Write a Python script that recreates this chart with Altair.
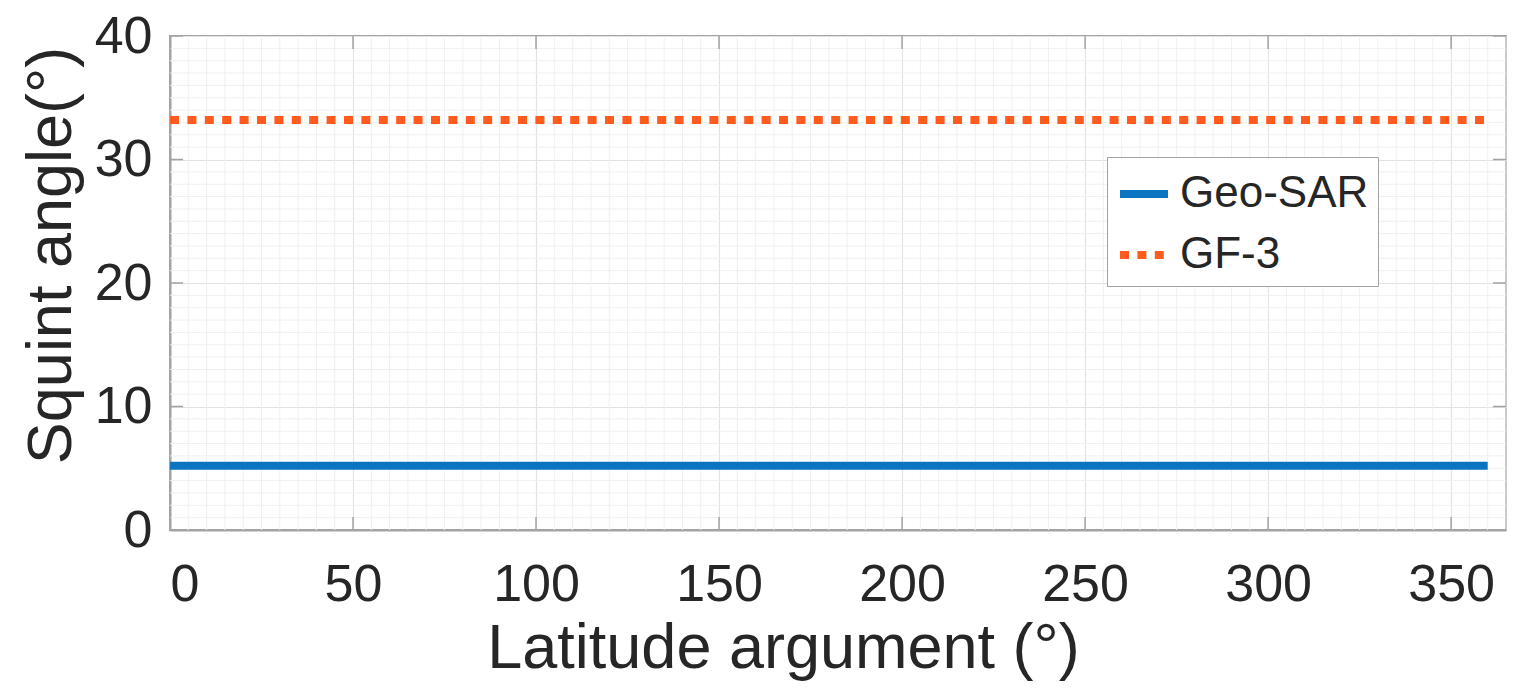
import altair as alt
import pandas as pd

# ---- data ----
lat = [0, 360]
geo_sar = [5.2, 5.2]
gf3 = [33.2, 33.2]
series_names = ["Geo-SAR", "GF-3"]
series_colors = ["#0A74C0", "#FF5B1E"]

x_major = [0, 50, 100, 150, 200, 250, 300, 350]
y_major = [0, 10, 20, 30, 40]
x_minor = [v for v in range(0, 366, 5) if v % 50 != 0]
y_minor = [v for v in range(0, 41) if v % 10 != 0]

W, H = 1336, 494
FONT = "Liberation Sans"
TXT = "#262626"
FRAME = "#a3a3a3"

df = pd.DataFrame({
    "lat": lat + lat,
    "val": geo_sar + gf3,
    "series": [series_names[0]] * len(lat) + [series_names[1]] * len(lat),
})

xs = alt.Scale(domain=[0, 365], nice=False, zero=False)
ys = alt.Scale(domain=[0, 40], nice=False)
xaxis = alt.Axis(values=x_major, title="Latitude argument (°)", format="d",
                 titleX=613, titleY=137, titleBaseline="alphabetic", titleAlign="center")
yaxis = alt.Axis(values=y_major, title="Squint angle(°)", format="d",
                 titleX=-100, titleY=219, titleBaseline="alphabetic",
                 titleAlign="center", titleAngle=270)


def X(f):
    return alt.X(f"{f}:Q", scale=xs, axis=xaxis)


def Y(f):
    return alt.Y(f"{f}:Q", scale=ys, axis=yaxis)


minor_x = alt.Chart(pd.DataFrame({"x": x_minor})).mark_rule(
    color="#f0f0f0", strokeWidth=1).encode(x=X("x"))
minor_y = alt.Chart(pd.DataFrame({"y": y_minor})).mark_rule(
    color="#f0f0f0", strokeWidth=1).encode(y=Y("y"))

lines = alt.Chart(df).mark_line(strokeCap="butt", strokeWidth=8).encode(
    x=X("lat"),
    y=Y("val"),
    color=alt.Color("series:N", sort=series_names,
                    scale=alt.Scale(domain=series_names, range=series_colors),
                    legend=alt.Legend(title=None, orient="none", legendX=937, legendY=121)),
    strokeDash=alt.StrokeDash("series:N", sort=series_names,
                              scale=alt.Scale(domain=series_names, range=[[1, 0], [9, 8.4]]),
                              legend=alt.Legend(title=None, orient="none", legendX=937, legendY=121)),
)

tick_x_bottom = alt.Chart(pd.DataFrame({"x": x_major})).mark_rule(color=FRAME, strokeWidth=1.5).encode(
    x=X("x"), y=alt.value(H), y2=alt.value(H - 13))
tick_x_top = alt.Chart(pd.DataFrame({"x": x_major})).mark_rule(color=FRAME, strokeWidth=1.5).encode(
    x=X("x"), y=alt.value(0), y2=alt.value(13))
tick_y_left = alt.Chart(pd.DataFrame({"y": y_major})).mark_rule(color=FRAME, strokeWidth=1.5).encode(
    y=Y("y"), x=alt.value(0), x2=alt.value(13))
tick_y_right = alt.Chart(pd.DataFrame({"y": y_major})).mark_rule(color=FRAME, strokeWidth=1.5).encode(
    y=Y("y"), x=alt.value(W), x2=alt.value(W - 13))

chart = alt.layer(
    minor_x, minor_y, lines, tick_x_bottom, tick_x_top, tick_y_left, tick_y_right
).properties(
    width=W, height=H,
    padding={"left": 162, "top": 28, "right": 15, "bottom": 160},
    autosize=alt.AutoSizeParams(type="none"),
    background="white",
).configure_view(
    stroke=FRAME, strokeWidth=2
).configure_axis(
    labelFont=FONT, titleFont=FONT, labelFontSize=52, titleFontSize=63,
    labelColor=TXT, titleColor=TXT, titleFontWeight="normal",
    domainColor=FRAME, domainWidth=2, ticks=False, tickSize=0,
    gridColor="#e3e3e3", gridWidth=1.2, grid=True,
).configure_axisX(
    labelPadding=29, labelBaseline="top",
).configure_axisY(
    labelPadding=18, labelBaseline="middle",
).configure_legend(
    labelFont=FONT, labelFontSize=44, labelColor=TXT,
    symbolType="stroke", symbolSize=2304, symbolStrokeWidth=8,
    strokeColor=FRAME, fillColor="white", padding=9, rowPadding=11,
    labelOffset=8, cornerRadius=0, labelLimit=400,
)

chart.save("out.html", embed_options={"renderer": "svg", "actions": False})
